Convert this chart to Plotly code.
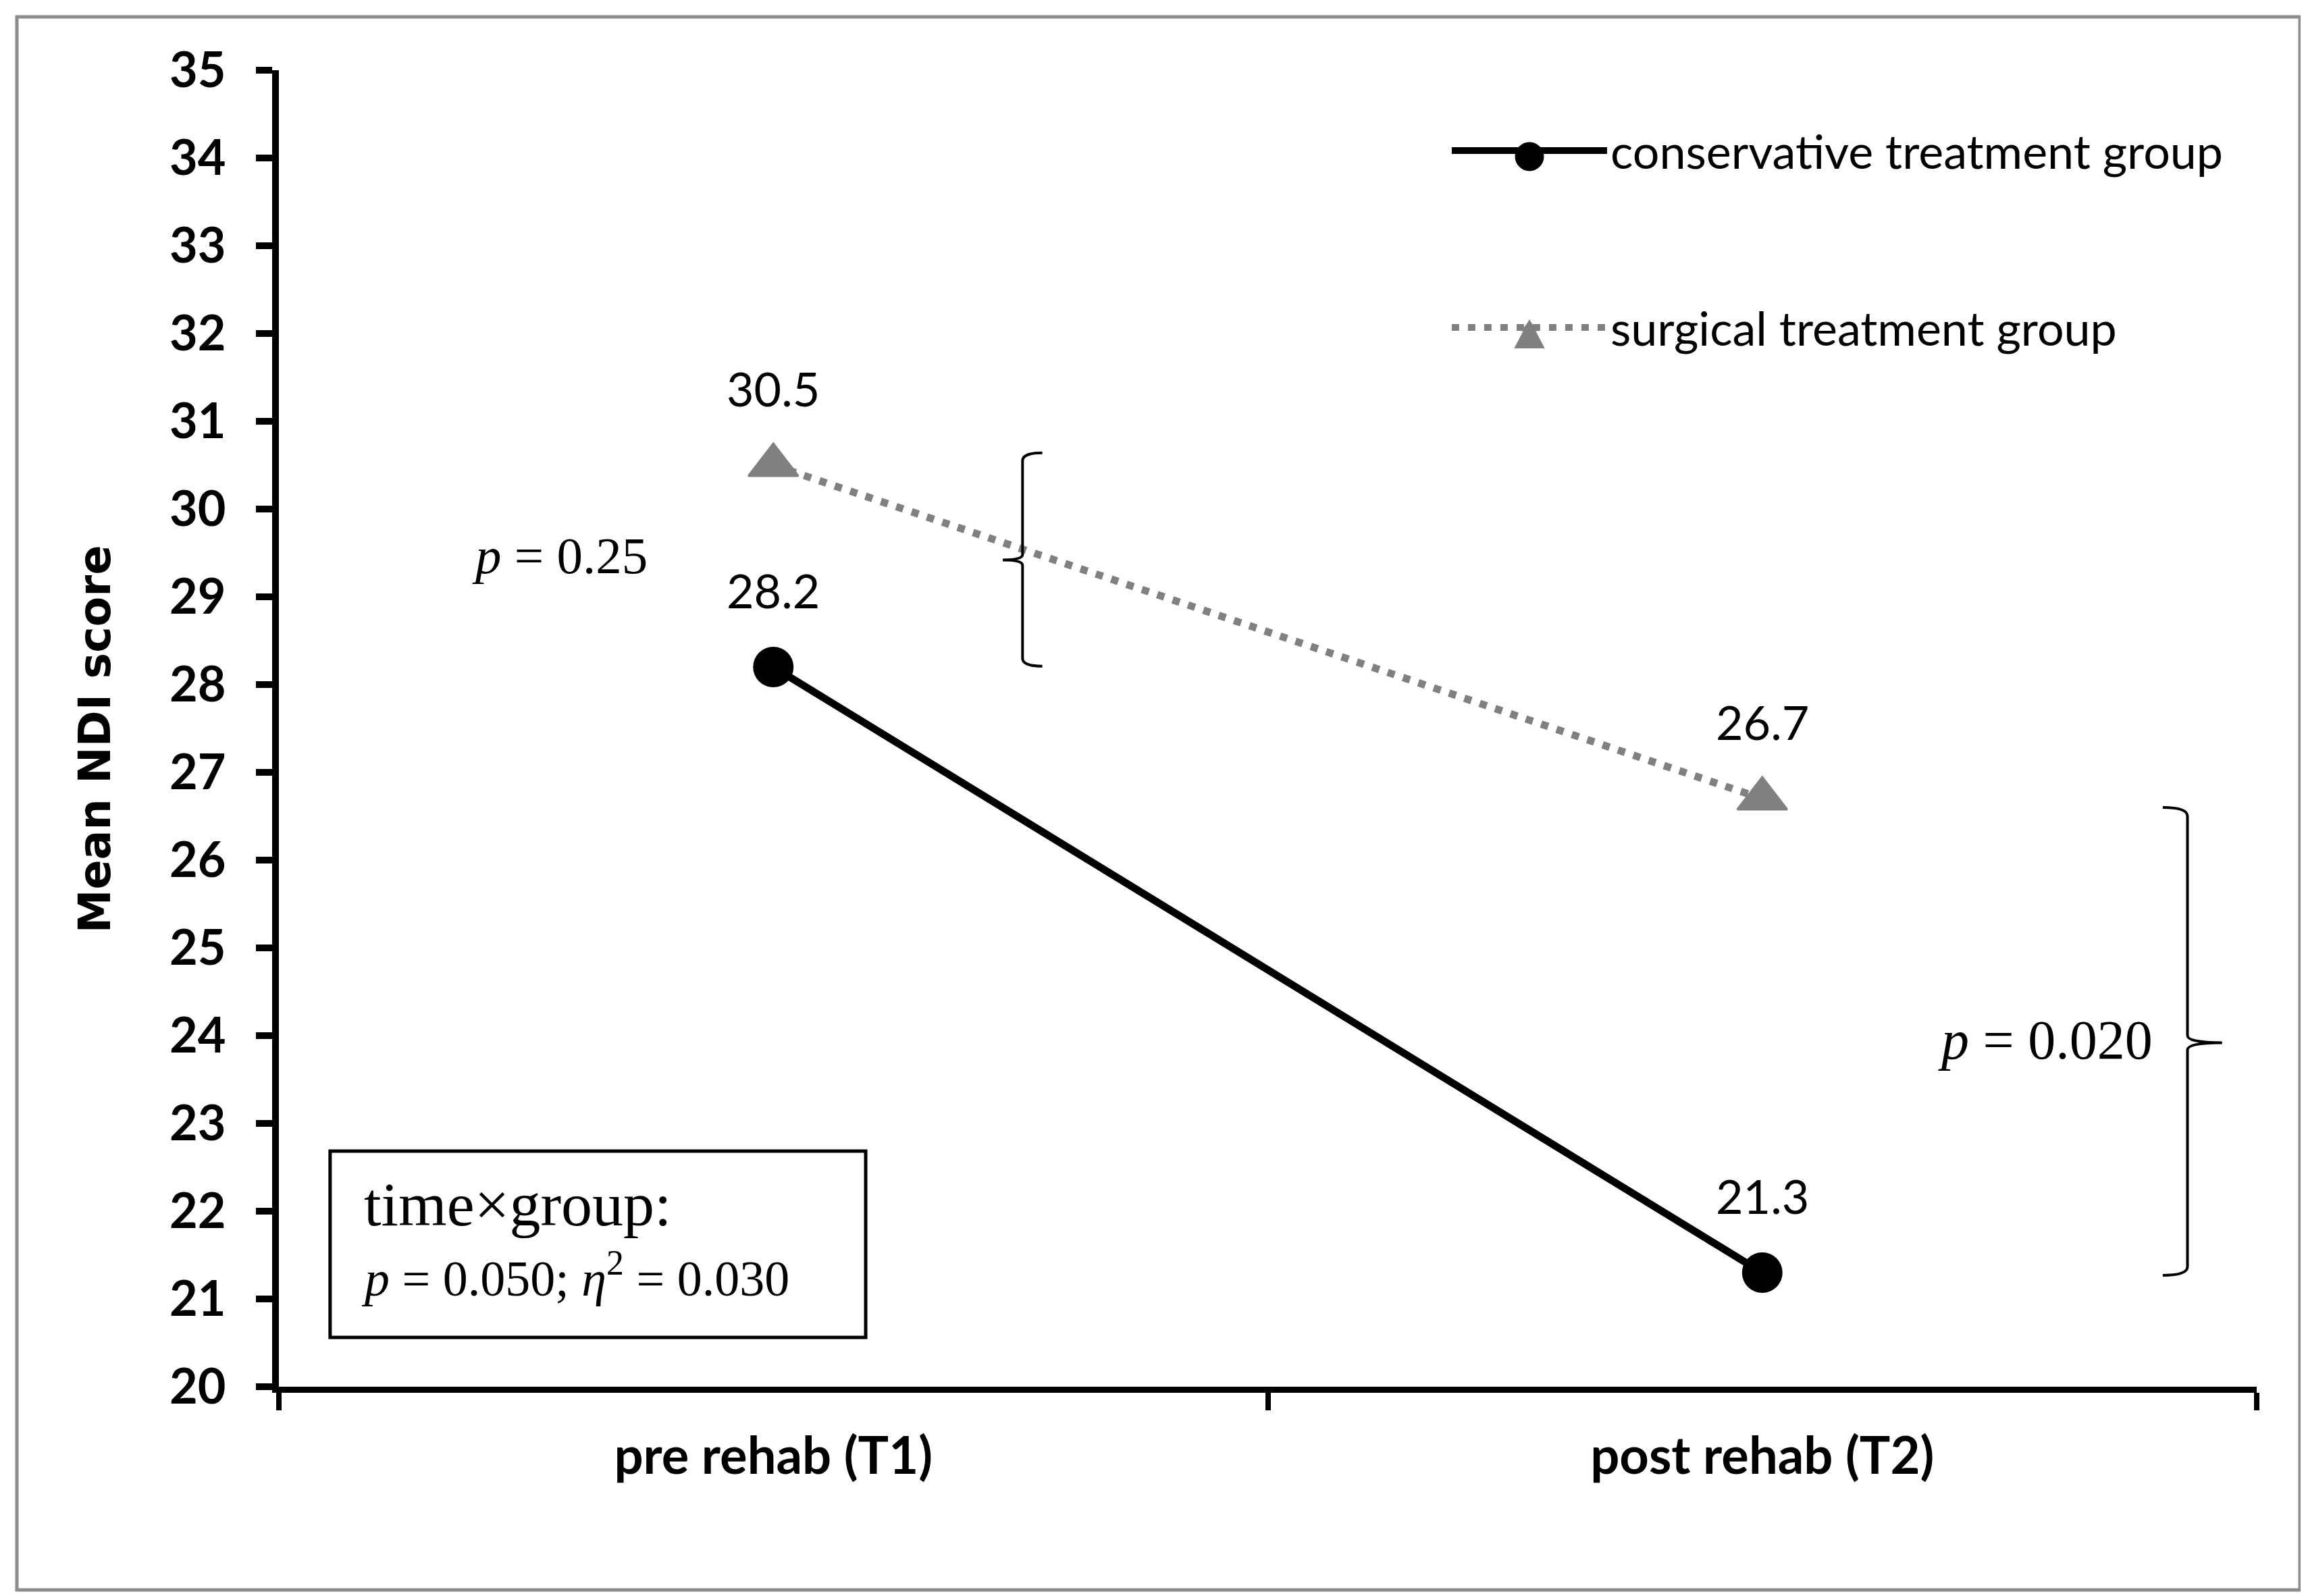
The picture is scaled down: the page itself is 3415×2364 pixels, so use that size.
import plotly.graph_objects as go

# ---------------- data ----------------
categories = ["pre rehab (T1)", "post rehab (T2)"]
conservative = [28.2, 21.3]
surgical = [30.5, 26.7]
series_names = ["conservative treatment group", "surgical treatment group"]
y_ticks = list(range(20, 36))
y_title = "Mean NDI score"
p_between_t1 = "<i>p</i> = 0.25"
p_between_t2 = "<i>p</i> = 0.020"
interaction_line1 = "time×group:"
interaction_line2 = "<i>p</i> = 0.050; <i>η</i><sup>2</sup> = 0.030"

W, H = 3415, 2364
ML, MR, MT, MB = 405, 81, 96, 318

BLACK = "#000000"
GREY = "#808080"
SANS = "Lato"
SERIF = "Liberation Serif"

fig = go.Figure()

fig.add_trace(go.Scatter(
    x=categories, y=conservative, name=series_names[0],
    mode="lines+markers",
    line=dict(color=BLACK, width=11),
    marker=dict(symbol="circle", size=60, color=BLACK),
    legend="legend",
))
fig.add_trace(go.Scatter(
    x=categories, y=surgical, name=series_names[1],
    mode="lines+markers",
    line=dict(color=GREY, width=11, dash="11px,13px"),
    marker=dict(symbol="triangle-up", size=64, color=GREY,
                line=dict(color=GREY, width=3)),
    legend="legend2",
))

annotations = []
# data labels
for vals in (conservative, surgical):
    for c, v in zip(categories, vals):
        annotations.append(dict(
            x=c, y=v, xref="x", yref="y", text=f"{v:.1f}",
            showarrow=False, yshift=114, yanchor="middle",
            font=dict(family=SANS, size=70, color=BLACK)))

# y axis title
annotations.append(dict(
    x=-0.093, y=0.492, xref="paper", yref="paper", text=f"<b>{y_title}</b>",
    textangle=-90, showarrow=False, xanchor="center", yanchor="middle",
    font=dict(family="DejaVu Sans", size=65, color=BLACK)))

# p-value annotations
annotations.append(dict(
    x=0.142, y=29.47, xref="paper", yref="y", text=p_between_t1,
    showarrow=False, xanchor="center", yanchor="middle",
    font=dict(family=SERIF, size=77, color=BLACK)))
annotations.append(dict(
    x=0.893, y=23.95, xref="paper", yref="y", text=p_between_t2,
    showarrow=False, xanchor="center", yanchor="middle",
    font=dict(family=SERIF, size=82, color=BLACK)))

# interaction box text
annotations.append(dict(
    x=0.0425, y=0.1385, xref="paper", yref="paper", text=interaction_line1,
    showarrow=False, xanchor="left", yanchor="middle",
    font=dict(family=SERIF, size=92, color=BLACK)))
annotations.append(dict(
    x=0.041, y=0.0851, xref="paper", yref="paper", text=interaction_line2,
    showarrow=False, xanchor="left", yanchor="middle",
    font=dict(family=SERIF, size=74, color=BLACK)))

shapes = []
# interaction box
shapes.append(dict(type="rect", xref="paper", yref="paper",
                   x0=0.0259, x1=0.2967, y0=0.0374, y1=0.179,
                   line=dict(color=BLACK, width=5), fillcolor="rgba(0,0,0,0)"))
# outer figure border
shapes.append(dict(type="rect", xref="paper", yref="paper",
                   x0=(17 - ML) / 2929, x1=(3398 - ML) / 2929,
                   y0=(2046 - 2347) / 1950, y1=(2046 - 17) / 1950,
                   line=dict(color="#8c8c8c", width=5), fillcolor="rgba(0,0,0,0)"))
# left brace (T1 comparison)
shapes.append(dict(type="path", xref="x", yref="y", line=dict(color=BLACK, width=4),
                   path="M 0.272,30.64 Q 0.252,30.64 0.252,30.55 L 0.252,29.48 "
                        "Q 0.252,29.42 0.232,29.42 Q 0.252,29.42 0.252,29.36 "
                        "L 0.252,28.30 Q 0.252,28.21 0.272,28.21"))
# right brace (T2 comparison)
shapes.append(dict(type="path", xref="x", yref="y", line=dict(color=BLACK, width=4),
                   path="M 1.405,26.60 Q 1.430,26.60 1.430,26.50 L 1.430,24.00 "
                        "Q 1.430,23.92 1.465,23.92 Q 1.430,23.92 1.430,23.84 "
                        "L 1.430,21.37 Q 1.430,21.27 1.405,21.27"))
# enlarged legend symbols (plotly caps legend marker size)
shapes.append(dict(type="circle", xref="paper", yref="paper",
                   xsizemode="pixel", ysizemode="pixel",
                   xanchor=0.6323, yanchor=0.9344,
                   x0=-21, x1=21, y0=-21, y1=21,
                   fillcolor=BLACK, line=dict(color=BLACK, width=1)))
shapes.append(dict(type="path", xref="paper", yref="paper",
                   xsizemode="pixel", ysizemode="pixel",
                   xanchor=0.6323, yanchor=0.798,
                   path="M -21,-17 L 21,-17 L 0,23 Z",
                   fillcolor=GREY, line=dict(color=GREY, width=2)))

fig.update_layout(
    width=W, height=H,
    margin=dict(l=ML, r=MR, t=MT, b=MB),
    paper_bgcolor="white", plot_bgcolor="white",
    showlegend=True,
    legend=dict(x=0.5913, y=0.939, xanchor="left", yanchor="middle",
                itemwidth=230, bgcolor="rgba(0,0,0,0)",
                font=dict(family=SANS, size=70, color=BLACK)),
    legend2=dict(x=0.5913, y=0.8046, xanchor="left", yanchor="middle",
                 itemwidth=230, bgcolor="rgba(0,0,0,0)",
                 font=dict(family=SANS, size=70, color=BLACK)),
    annotations=annotations,
    shapes=shapes,
    xaxis=dict(type="category", categoryorder="array", categoryarray=categories,
               range=[-0.5, 1.5], tickson="boundaries",
               ticks="outside", ticklen=26, tickwidth=8, tickcolor=BLACK,
               showline=True, linecolor=BLACK, linewidth=9,
               showgrid=False, zeroline=False,
               tickfont=dict(family=SANS, size=76, color=BLACK, weight="bold"),
               ticklabelstandoff=29),
    yaxis=dict(range=[20, 35], tickmode="array", tickvals=y_ticks,
               ticktext=[str(t) for t in y_ticks],
               ticks="outside", ticklen=24, tickwidth=10, tickcolor=BLACK,
               showline=True, linecolor=BLACK, linewidth=10,
               showgrid=False, zeroline=False,
               tickfont=dict(family=SANS, size=72, color=BLACK, weight="bold"),
               ticklabelstandoff=30),
)

fig.write_html("out.html")
